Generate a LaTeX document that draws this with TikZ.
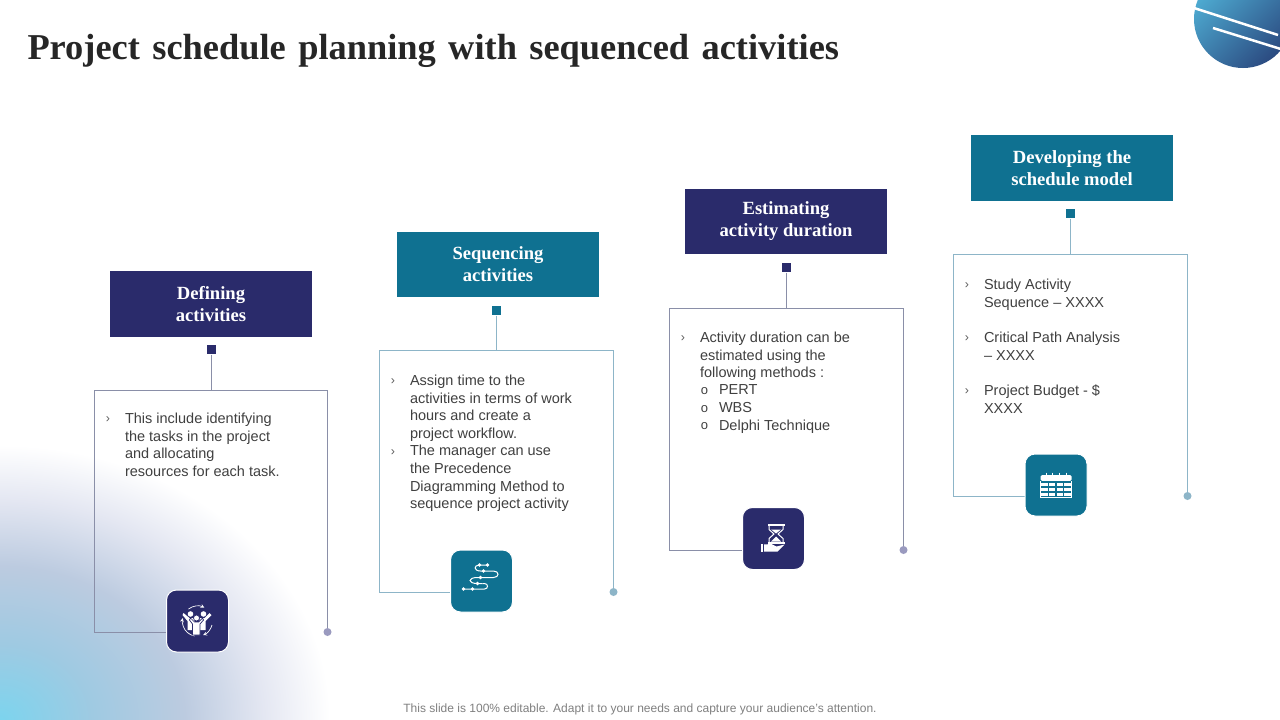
\documentclass[tikz,border=0pt]{standalone}
\usepackage{fontspec}
\setmainfont{Liberation Sans}
\newfontfamily\titlefont{Liberation Serif}
\newfontfamily\headfont{Liberation Serif}
\newcommand{\widewords}{\spaceskip=12.4pt\relax}
\usepackage{tikz}
\usetikzlibrary{arrows,shapes}
\usetikzlibrary{positioning}
\definecolor{navy}{HTML}{2A2B6B}
\definecolor{teal}{HTML}{0F7191}
\definecolor{navyline}{HTML}{8A8FA8}
\definecolor{tealline}{HTML}{8DB5C8}
\definecolor{navydot}{HTML}{9A9ABF}
\definecolor{bodygrey}{HTML}{404040}
\definecolor{glowa}{HTML}{7CD4EE}
\definecolor{glowb}{HTML}{9FCAE2}
\definecolor{glowc}{HTML}{BCCBE0}
\definecolor{glowd}{HTML}{E4E7F2}
\definecolor{discfrom}{HTML}{4FAED4}
\definecolor{discto}{HTML}{2B4A80}
\pgfdeclareradialshading{cornerglow}{\pgfpoint{0bp}{0bp}}{
	color(0bp)=(glowa);
	color(7bp)=(glowb);
	color(14bp)=(glowc);
	color(20bp)=(glowd);
	color(25bp)=(white);
	color(50bp)=(white)}
\tikzset{
	head/.style={minimum width=202pt, minimum height=65.5pt, inner sep=0pt, align=center, text=white,
		font=\headfont\bfseries\fontsize{18.6}{22}\selectfont, execute at begin node=\rule{0pt}{19.5pt}},
	headnavy/.style={head, fill=navy},
	headteal/.style={head, fill=teal},
	pinnavy/.style={fill=navy, minimum size=9pt, inner sep=0pt},
	pinteal/.style={fill=teal, minimum size=9pt, inner sep=0pt},
	dotnavy/.style={circle, fill=navydot, minimum size=8pt, inner sep=0pt},
	dotteal/.style={circle, fill=tealline, minimum size=8pt, inner sep=0pt},
	framenavy/.style={draw=navyline, line width=1pt},
	frameteal/.style={draw=tealline, line width=1pt},
	iconnavy/.style={fill=navy, draw=white, line width=1pt, rounded corners=10pt, minimum size=62pt, inner sep=0pt},
	iconteal/.style={fill=teal, draw=white, line width=1pt, rounded corners=10pt, minimum size=62pt, inner sep=0pt},
	bodytext/.style={anchor=north west, inner sep=0pt, align=left, text=bodygrey,
		font=\fontsize{14.5}{17.6}\selectfont},
	chevron/.style={inner sep=0pt, text=bodygrey!85, font=\fontsize{12.5}{14}\selectfont},
	ringmark/.style={inner sep=0pt, text=bodygrey, font=\fontsize{13}{13}\selectfont},
	glyph/.style={draw=white, line width=1pt, fill=none},
}

\begin{document}
\begin{tikzpicture}[x=1pt, y=-1pt, line width=1pt]
	\useasboundingbox (0,0) rectangle (1280,720);
	\fill[white] (0,0) rectangle (1280,720);
%
	\begin{scope}
		\clip (0,0) rectangle (1280,720);
		\shade[shading=cornerglow] (0,720) ellipse [x radius=330, y radius=275];
		\shade[top color=discfrom, bottom color=discto, shading angle=45] (1243,19) circle (49);
		\draw[white, line width=2.5pt] (1194,8) -- (1278,35);
		\draw[white, line width=2.5pt] (1213,28) -- (1284,50);
	\end{scope}
%
	\node[anchor=west, inner sep=0pt, text=black!85, font=\titlefont\bfseries\fontsize{36.4}{40}\selectfont\widewords] (title) at (27,51) {Project schedule planning with sequenced activities};
%
	\node[headnavy] (headA) at (211,304) {Defining\\activities};
	\node[headteal] (headB) at (498,264.5) {Sequencing\\activities};
	\node[headnavy] (headC) at (786,221.5) {Estimating\\activity duration};
	\node[headteal] (headD) at (1072,168) {Developing the\\schedule model};
%
	\node[pinnavy] (pinA) at (211,349.5) {};
	\node[pinteal] (pinB) at (496,310.5) {};
	\node[pinnavy] (pinC) at (786,267.5) {};
	\node[pinteal] (pinD) at (1070,213.5) {};
%
	\node[dotnavy] (dotA) at (327.5,632) {};
	\node[dotteal] (dotB) at (613.5,592) {};
	\node[dotnavy] (dotC) at (903.5,550) {};
	\node[dotteal] (dotD) at (1187.5,496) {};
%
	\coordinate (topA) at (211,390);
	\coordinate (topB) at (496,350);
	\coordinate (topC) at (786,308);
	\coordinate (topD) at (1070,254);
	\coordinate (cornerA) at (94.5,390);
	\coordinate (cornerB) at (379.5,350);
	\coordinate (cornerC) at (669.5,308);
	\coordinate (cornerD) at (953.5,254);
	\coordinate (footA) at (168,632);
	\coordinate (footB) at (452,592);
	\coordinate (footC) at (744,550);
	\coordinate (footD) at (1026,496);
%
	\draw[framenavy] (pinA) -- (topA);
	\draw[frameteal] (pinB) -- (topB);
	\draw[framenavy] (pinC) -- (topC);
	\draw[frameteal] (pinD) -- (topD);
	\draw[framenavy] (dotA) |- (cornerA) |- (footA);
	\draw[frameteal] (dotB) |- (cornerB) |- (footB);
	\draw[framenavy] (dotC) |- (cornerC) |- (footC);
	\draw[frameteal] (dotD) |- (cornerD) |- (footD);
%
	\node[iconnavy] (iconA) at (197.5,621) {};
	\node[iconteal] (iconB) at (481.5,581) {};
	\node[iconnavy] (iconC) at (773.5,538.5) {};
	\node[iconteal] (iconD) at (1056,485) {};
%
	\node[chevron] (markA) at (108,419.5) {›};
	\node[bodytext] (textA) at (124.5,412.5) {This include identifying\\the tasks in the project\\and allocating\\resources for each task.};
%
	\node[chevron] (markBa) at (393,381.5) {›};
	\node[chevron] (markBb) at (393,452.5) {›};
	\node[bodytext] (textB) at (409.5,374.5) {Assign time to the\\activities in terms of work\\hours and create a\\project workflow.\\The manager can use\\the Precedence\\Diagramming Method to\\sequence project activity};
%
	\node[chevron] (markC) at (683,338.5) {›};
	\node[bodytext] (textC) at (699.5,331.5) {Activity duration can be\\estimated using the\\following methods :};
	\node[ringmark] (ringCa) at (704.5,391.5) {o};
	\node[ringmark] (ringCb) at (704.5,409) {o};
	\node[ringmark] (ringCc) at (704.5,426.5) {o};
	\node[bodytext] (listC) at (718.5,384.5) {PERT\\WBS\\Delphi Technique};
%
	\node[chevron] (markDa) at (967,285.5) {›};
	\node[chevron] (markDb) at (967,338.5) {›};
	\node[chevron] (markDc) at (967,391.5) {›};
	\node[bodytext] (textDa) at (983.5,278.5) {Study Activity\\Sequence – XXXX};
	\node[bodytext] (textDb) at (983.5,331.5) {Critical Path Analysis\\– XXXX};
	\node[bodytext] (textDc) at (983.5,384.5) {Project Budget - \$\\XXXX};
%
	\node[inner sep=0pt, text=black!50, font=\fontsize{12}{14}\selectfont] (note) at (640,709) {This slide is 100\% editable. Adapt it to your needs and capture your audience's attention.};
%
	% people inside the ring of arrows
	\begin{scope}[shift={(iconA.center)}]
		\draw[white, line width=0.7pt, -stealth] (-9,-12) arc (233:297:15);
		\draw[white, line width=0.7pt, -stealth] (14.5,4) arc (15:68:15);
		\draw[white, line width=0.7pt, -stealth] (-3,15) arc (101:192:15);
		\fill[white] (-7,-7) circle (2.8);
		\fill[white] (6,-7) circle (2.8);
		\fill[white] (-14,-8) -- (-8,-3) -- (-3,-3) -- (-3,9) -- (-10,9) -- (-10,0) -- (-15,-6) -- cycle;
		\fill[white] (12,-8) -- (7,-3) -- (2,-3) -- (2,9) -- (8,9) -- (8,0) -- (14,-6) -- cycle;
		\draw[navy, fill=white, line width=0.7pt] (-1,-3) circle (3);
		\draw[navy, fill=white, line width=0.7pt] (-7,-3) -- (-3,1) -- (1,1) -- (5,-3) -- (6,-1) -- (2.5,3) -- (2.5,14) -- (-5,14) -- (-5,3) -- (-8,-1) -- cycle;
	\end{scope}
%
	% winding road with stops
	\begin{scope}[shift={(iconB.center)}]
		\draw[glyph] (6,-16) -- (-2,-16) .. controls (-8,-16) and (-8,-10) .. (-1,-10) -- (12,-10) .. controls (18,-10) and (18,-3.5) .. (12,-3.5) -- (-4,-3.5) .. controls (-14,-3.5) and (-14,2.5) .. (-4,2.5) -- (1,2.5);
		\draw[glyph] (1,2.5) -- (3,2.5) .. controls (7,2.5) and (7,8) .. (3,8) -- (-18,8);
		\fill[white] (-2,-16) circle (1.8);
		\fill[white] (6,-16) circle (1.8);
		\fill[white] (2,-10) circle (1.8);
		\fill[white] (-1,-3.5) circle (1.8);
		\fill[white] (-4,2.5) circle (1.8);
		\fill[white] (-9,8) circle (1.8);
		\fill[white] (-18,8) circle (1.8);
	\end{scope}
%
	% hourglass on an open hand
	\begin{scope}[shift={(iconC.center)}]
		\fill[white] (-6,-15) rectangle (11,-13);
		\fill[white] (-6,3.5) rectangle (11,5.5);
		\draw[glyph] (-4.5,-13) -- (-4.5,-9) -- (0.5,-4.5) -- (-4.5,0) -- (-4.5,3.5);
		\draw[glyph] (9.5,-13) -- (9.5,-9) -- (4.5,-4.5) -- (9.5,0) -- (9.5,3.5);
		\fill[white] (-2.5,-9) -- (7.5,-9) -- (2.5,-5) -- cycle;
		\fill[white] (-2.5,3) -- (7.5,3) -- (2.5,-2) -- cycle;
		\fill[white] (-13,5) rectangle (-10.5,13);
		\fill[white] (-9.5,6) -- (-2,5.5) -- (3,8) -- (11,6) -- (4,13) -- (-9.5,13) -- cycle;
	\end{scope}
%
	% calendar sheet
	\begin{scope}[shift={(iconD.center)}]
		\fill[white, rounded corners=1.5pt] (-15.5,-10) rectangle (15.5,-4);
		\fill[white] (-15.5,-3) rectangle (15.5,12);
		\draw[teal, line width=1.2pt, xstep=7.75pt, ystep=5pt, yshift=-2pt] (-15.5,10) grid (15.5,-5);
		\draw[white, line width=1pt] (-15.5,-4) -- (-15.5,12) -- (15.5,12) -- (15.5,-4);
		\draw[white, line width=1pt] (-10,-12.5) -- (-10,-8);
		\draw[white, line width=1pt] (-3.5,-12.5) -- (-3.5,-8);
		\draw[white, line width=1pt] (3.5,-12.5) -- (3.5,-8);
		\draw[white, line width=1pt] (10,-12.5) -- (10,-8);
	\end{scope}
\end{tikzpicture}
\end{document}
